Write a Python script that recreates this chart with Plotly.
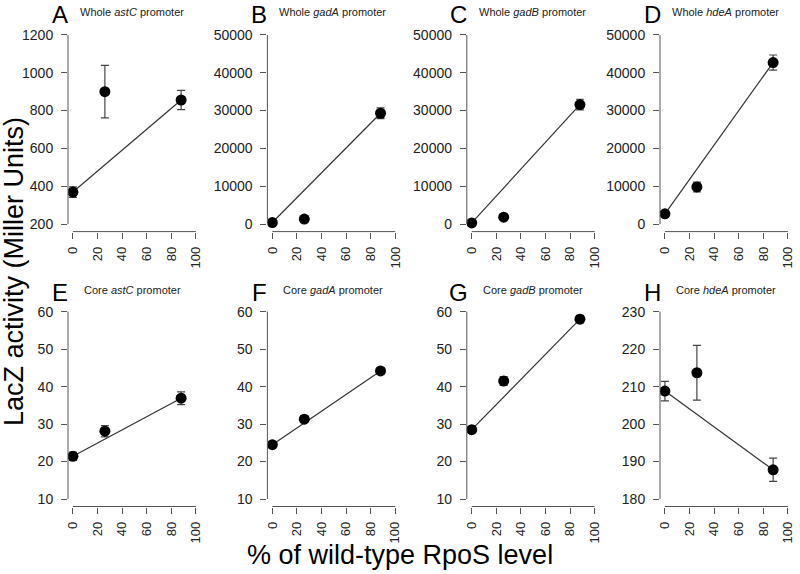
import plotly.graph_objects as go

# % of wild-type RpoS level
rpos = [0, 26, 88]

# panel data (mean LacZ activity, SEM)
letters = ["A", "B", "C", "D", "E", "F", "G", "H"]
kinds = ["Whole", "Whole", "Whole", "Whole", "Core", "Core", "Core", "Core"]
genes = ["astC", "gadA", "gadB", "hdeA", "astC", "gadA", "gadB", "hdeA"]

mean_A = [369, 900, 856]
err_A = [28, 139, 51]
mean_B = [400, 1300, 29300]
err_B = [300, 300, 1400]
mean_C = [300, 1800, 31600]
err_C = [300, 300, 1400]
mean_D = [2700, 9800, 42700]
err_D = [500, 1300, 2000]
mean_E = [21.4, 28.1, 36.9]
err_E = [1.1, 1.5, 1.7]
mean_F = [24.5, 31.3, 44.2]
err_F = [0.5, 0.8, 0.8]
mean_G = [28.5, 41.5, 58.0]
err_G = [0.8, 1.2, 1.0]
mean_H = [208.8, 213.7, 187.8]
err_H = [2.6, 7.3, 3.1]

means = [mean_A, mean_B, mean_C, mean_D, mean_E, mean_F, mean_G, mean_H]
errs = [err_A, err_B, err_C, err_D, err_E, err_F, err_G, err_H]

# y tick ranges
y_ticks = [
    list(range(200, 1201, 200)),
    list(range(0, 50001, 10000)),
    list(range(0, 50001, 10000)),
    list(range(0, 50001, 10000)),
    list(range(10, 61, 10)),
    list(range(10, 61, 10)),
    list(range(10, 61, 10)),
    list(range(180, 231, 10)),
]
x_ticks = [0, 20, 40, 60, 80, 100]

W, H = 800, 574
col_left = [68, 267.4, 466.8, 660]
col_w = 132.8
row_top = [27.4, 304.2]
row_bot = [231.6, 506.5]


def px(x):
    return x / W


def py(y):
    return 1 - y / H


FONT = "Liberation Sans, Arial, Helvetica, sans-serif"
axis_c = "#555555"
text_c = "#222222"

fig = go.Figure()
layout = {}
shapes = []
annotations = []

for i in range(8):
    r, c = divmod(i, 4)
    n = "" if i == 0 else str(i + 1)
    xa, ya = "x" + n, "y" + n
    yt = y_ticks[i]
    ymin, ymax = yt[0], yt[-1]
    pad = 0.04 * (ymax - ymin)

    x0px = col_left[c]
    layout["xaxis" + n] = dict(
        domain=[px(x0px), px(x0px + col_w)], anchor=ya,
        range=[-4, 104], tickvals=x_ticks,
        ticktext=[str(v) for v in x_ticks], tickangle=-90,
        ticks="outside", ticklen=6, tickcolor=axis_c, tickwidth=1,
        ticklabelstandoff=3, ticklabeloverflow="allow", automargin=False,
        showline=False, showgrid=False, zeroline=False,
        tickfont=dict(family=FONT, size=13, color=text_c),
    )
    layout["yaxis" + n] = dict(
        domain=[py(row_bot[r]), py(row_top[r])], anchor=xa,
        range=[ymin - pad, ymax + pad], tickvals=yt,
        ticktext=[str(v) for v in yt],
        ticks="outside", ticklen=6, tickcolor=axis_c, tickwidth=1,
        ticklabelstandoff=5, ticklabeloverflow="allow", automargin=False,
        showline=False, showgrid=False, zeroline=False,
        tickfont=dict(family=FONT, size=14, color=text_c),
    )

    # R-style detached axis lines
    shapes.append(dict(type="line", xref=xa + " domain", yref=ya,
                       x0=0, x1=0, y0=ymin, y1=ymax,
                       line=dict(color=axis_c, width=1)))
    shapes.append(dict(type="line", xref=xa, yref=ya + " domain",
                       x0=x_ticks[0], x1=x_ticks[-1], y0=0, y1=0,
                       line=dict(color=axis_c, width=1)))

    m, e = means[i], errs[i]
    # line between the 0 % and 88 % points
    fig.add_trace(go.Scatter(
        x=[rpos[0], rpos[-1]], y=[m[0], m[-1]], mode="lines",
        line=dict(color="#333333", width=1.2),
        xaxis=xa, yaxis=ya, showlegend=False, hoverinfo="skip"))
    fig.add_trace(go.Scatter(
        x=rpos, y=m, mode="markers",
        marker=dict(color="black", size=11),
        error_y=dict(type="data", array=e, visible=True,
                     color="#444444", thickness=1.2, width=4),
        xaxis=xa, yaxis=ya, showlegend=False))

    ytxt = 14 if r == 0 else 292
    annotations.append(dict(
        text=letters[i], x=px(x0px - 8), y=py(ytxt),
        xref="paper", yref="paper", xanchor="center", yanchor="middle",
        showarrow=False, font=dict(family=FONT, size=24, color="black")))
    annotations.append(dict(
        text=f"{kinds[i]} <i>{genes[i]}</i> promoter",
        x=px(x0px + (10 if r == 0 else 14)), y=py(ytxt - 2),
        xref="paper", yref="paper", xanchor="left", yanchor="middle",
        showarrow=False, font=dict(family=FONT, size=11, color=text_c)))

annotations.append(dict(
    text="LacZ activity (Miller Units)", x=px(14), y=py(272),
    xref="paper", yref="paper", xanchor="center", yanchor="middle",
    textangle=-90, showarrow=False,
    font=dict(family=FONT, size=27, color="black")))
annotations.append(dict(
    text="% of wild-type RpoS level", x=px(400), y=py(555),
    xref="paper", yref="paper", xanchor="center", yanchor="middle",
    showarrow=False, font=dict(family=FONT, size=27, color="black")))

fig.update_layout(
    width=W, height=H,
    margin=dict(l=0, r=0, t=0, b=0),
    paper_bgcolor="white", plot_bgcolor="white",
    shapes=shapes, annotations=annotations,
    **layout,
)

# drop the default body margin so the figure sits at the page origin
fig.write_html("out.html", config={"displayModeBar": False},
               post_script="document.body.style.margin = '0px';")
